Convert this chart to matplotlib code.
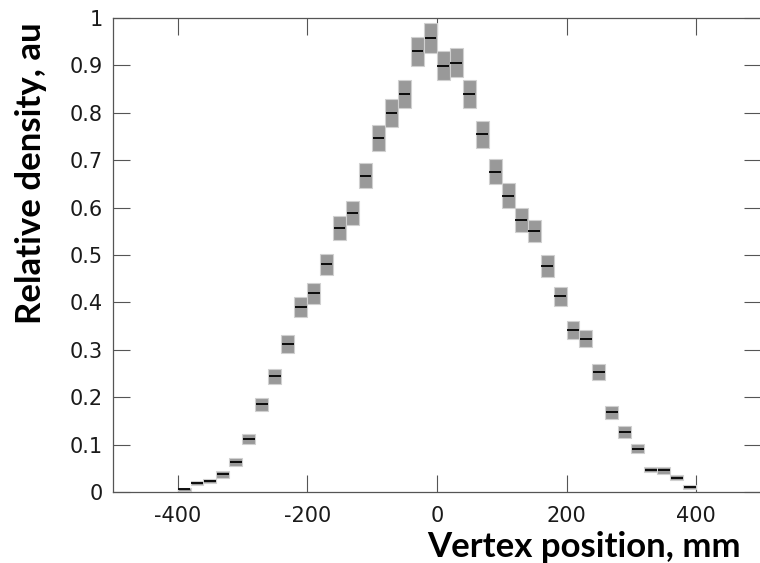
import numpy as np
import matplotlib
matplotlib.use("Agg")
import matplotlib.pyplot as plt

# bin centres (mm), 20 mm wide bins
bin_centres = [-390, -370, -350, -330, -310, -290, -270, -250, -230, -210,
               -190, -170, -150, -130, -110, -90, -70, -50, -30, -10,
               10, 30, 50, 70, 90, 110, 130, 150, 170, 190,
               210, 230, 250, 270, 290, 310, 330, 350, 370, 390]

# relative density
density = [0.006, 0.019, 0.024, 0.038, 0.064, 0.112, 0.185, 0.244, 0.312, 0.391,
           0.419, 0.480, 0.557, 0.589, 0.667, 0.747, 0.800, 0.839, 0.929, 0.958,
           0.899, 0.905, 0.839, 0.754, 0.675, 0.625, 0.574, 0.550, 0.477, 0.413,
           0.342, 0.324, 0.253, 0.169, 0.127, 0.092, 0.048, 0.046, 0.031, 0.011]

# half height of the grey error boxes
errors = [0.003, 0.0046, 0.005, 0.0077, 0.0088, 0.011, 0.0147, 0.0165, 0.019, 0.0207,
          0.0225, 0.023, 0.0246, 0.025, 0.026, 0.0274, 0.0295, 0.030, 0.031, 0.0316,
          0.031, 0.031, 0.030, 0.0285, 0.0263, 0.026, 0.0246, 0.0235, 0.023, 0.0204,
          0.019, 0.0186, 0.0169, 0.0137, 0.012, 0.010, 0.006, 0.0067, 0.0053, 0.0035]

x_ticks = [-400, -200, 0, 200, 400]
y_ticks = [0, 0.1, 0.2, 0.3, 0.4, 0.5, 0.6, 0.7, 0.8, 0.9, 1]
y_tick_labels = ['0', '0.1', '0.2', '0.3', '0.4', '0.5', '0.6', '0.7', '0.8', '0.9', '1']
bin_width = 20

plt.rcParams['axes.unicode_minus'] = False
plt.rcParams['font.family'] = ['DejaVu Sans']

x = np.array(bin_centres)
v = np.array(density)
e = np.array(errors)

fig = plt.figure(figsize=(7.6, 5.63), dpi=100)
ax = fig.add_axes([0.1483, 0.1256, 0.8530, 0.8430])

# grey boxes for the uncertainty, black bar for the value
ax.bar(x, 2 * e, bottom=v - e, width=bin_width, color='#999999',
       edgecolor='#d0d0d0', linewidth=0.8, zorder=2)
ax.hlines(v, x - bin_width / 2 + 1, x + bin_width / 2 - 1, color='black',
          linewidth=1.3, zorder=3)

ax.set_xlim(-500, 500)
ax.set_ylim(0, 1)
ax.set_xticks(x_ticks)
ax.set_xticklabels([str(t) for t in x_ticks])
ax.set_yticks(y_ticks)
ax.set_yticklabels(y_tick_labels)

ax.tick_params(direction='in', length=12, width=0.8, color='#555555',
               labelsize=15, labelcolor='#1a1a1a', top=True, right=True)
ax.tick_params(axis='x', pad=10)
ax.tick_params(axis='y', pad=7)
for s in ax.spines.values():
    s.set_color('#555555')
    s.set_linewidth(0.9)

fig.text(0.769, 0.0112, 'Vertex position, mm', family=['Lato', 'DejaVu Sans'],
         fontweight='bold', fontsize=25, ha='center', va='baseline')
fig.text(0.041, 0.692, 'Relative density, au', family=['Lato', 'DejaVu Sans'],
         fontweight='bold', fontsize=25, rotation=90, ha='center', va='center')

fig.savefig('out.png', dpi=100)
